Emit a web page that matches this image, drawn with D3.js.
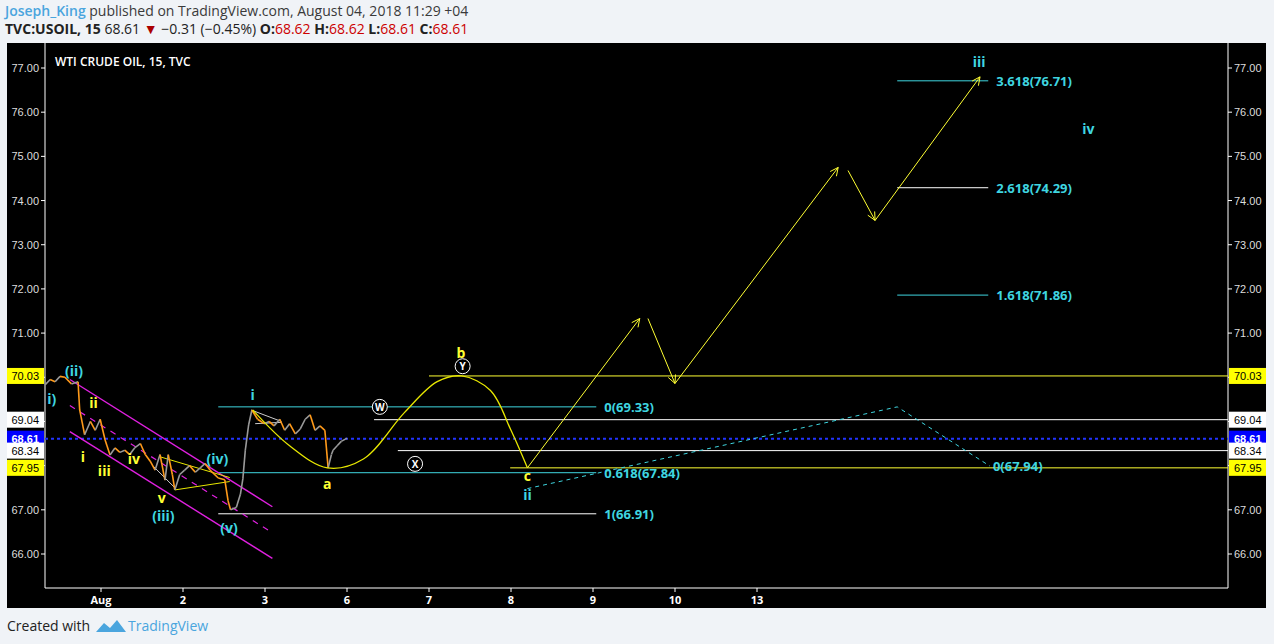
<!DOCTYPE html>
<html><head><meta charset="utf-8">
<script src="https://cdn.jsdelivr.net/npm/d3@7.9.0/dist/d3.min.js"></script>
<style>
body{margin:0;background:#f0f3f7;font-family:"Open Sans",sans-serif;}
svg{display:block}
</style></head><body><svg id="c" width="1274" height="644"></svg>
<script>
// trading-day index: 0 = Aug 1
const dayTicks = [0, 1, 2, 3, 4, 5, 6, 7, 8];
const dayLabels = ['Aug', '2', '3', '6', '7', '8', '9', '10', '13'];
const priceTicks = [66, 67, 68, 69, 70, 71, 72, 73, 74, 75, 76, 77];

// price path (time in days, price)
const pathT = [-0.68,-0.62,-0.56,-0.5,-0.44,-0.36,-0.28,-0.26,-0.2,-0.13,-0.07,-0.01,0.05,0.11,0.17,0.23,0.29,0.35,0.41,0.48,0.54,0.6,0.66,0.72,0.78,0.82,0.87,0.9,0.96,1.02,1.08,1.15,1.21,1.27,1.33,1.43,1.51,1.55,1.58,1.65,1.7,1.73,1.76,1.8,1.84,1.91,1.99,2.05,2.11,2.18,2.24,2.3,2.37,2.43,2.49,2.55,2.61,2.67,2.73,2.77,2.81,2.83,2.88,2.93,2.98,3.0];
const pathP = [69.83,69.95,69.9,70.02,70.0,69.85,69.9,69.26,68.7,69.0,68.8,69.05,68.58,68.24,68.4,68.3,68.35,68.25,68.4,68.5,68.25,68.1,67.9,68.25,67.67,68.25,67.8,67.45,67.8,67.9,68.0,67.85,67.95,68.05,67.9,67.72,67.68,67.2,67.0,67.05,67.35,67.7,68.35,68.92,69.26,69.05,68.95,69.0,68.9,69.05,68.8,68.95,68.72,68.83,69.05,69.15,68.8,68.9,68.8,67.95,68.25,68.35,68.45,68.55,68.6,68.62];

// fib levels: [t0, t1, price, colour, label]
const levels = [
  [1.43, 6.04, 69.33, '#3fd6e0', '0(69.33)'],
  [1.43, 6.04, 67.84, '#3fd6e0', '0.618(67.84)'],
  [1.43, 6.04, 66.91, '#ffffff', '1(66.91)'],
  [9.71, 10.82, 76.71, '#3fd6e0', '3.618(76.71)'],
  [9.71, 10.82, 74.29, '#ffffff', '2.618(74.29)'],
  [9.71, 10.82, 71.86, '#3fd6e0', '1.618(71.86)']
];
// long horizontal rays: [t0, price, colour]
const rays = [[4.0, 70.03, '#ffff33'], [3.33, 69.04, '#ffffff'], [3.62, 68.34, '#ffffff'], [4.99, 67.95, '#ffff33']];
const axisMarks = [[70.03, '#ffff00', '#000'], [69.04, '#fff', '#000'], [68.61, '#0000ff', '#fff'], [68.34, '#fff', '#000'], [67.95, '#ffff00', '#000']];

// projected arrows [t0,p0,t1,p1]
const arrows = [[5.2, 67.95, 6.57, 71.33], [6.67, 71.33, 7.0, 69.86], [7.0, 69.86, 8.99, 74.75], [9.11, 74.68, 9.44, 73.55], [9.44, 73.55, 10.72, 76.8]];
const curveT = [1.85, 2.3, 2.76, 3.2, 3.7, 4.1, 4.4, 4.75, 5.0, 5.2];
const curveP = [69.26, 68.45, 67.95, 68.15, 69.2, 69.9, 70.03, 69.7, 68.8, 67.95];
const dashT = [5.2, 9.71, 10.84], dashP = [67.48, 69.33, 67.99];

const W = 1274, H = 644, L = 45, R = 1228, T = 43, B = 588;
const x = d3.scaleLinear().domain([0, 1]).range([101, 183]);
const y = d3.scaleLinear().domain([66, 77]).range([554, 68]);
const svg = d3.select('#c');

svg.append('text').attr('x', 5).attr('y', 16).attr('font-size', 14).attr('fill', '#3a3a3a')
  .html('<tspan fill="#4aa5de" font-weight="600">Joseph_King</tspan> published on TradingView.com, August 04, 2018 11:29 +04');
svg.append('text').attr('x', 5).attr('y', 34).attr('font-size', 14).attr('fill', '#222')
  .html('<tspan font-weight="700">TVC:USOIL, 15</tspan>  68.61 <tspan fill="#a00">▼</tspan> −0.31 (−0.45%) <tspan font-weight="700">O:</tspan><tspan fill="#c00">68.62</tspan> <tspan font-weight="700">H:</tspan><tspan fill="#c00">68.62</tspan> <tspan font-weight="700">L:</tspan><tspan fill="#c00">68.61</tspan> <tspan font-weight="700">C:</tspan><tspan fill="#c00">68.61</tspan>');

svg.append('rect').attr('x', 7).attr('y', T).attr('width', 1259).attr('height', 565).attr('fill', '#000');
svg.append('defs').append('clipPath').attr('id', 'clip').append('rect').attr('x', L).attr('y', T).attr('width', R - L).attr('height', B - T);
svg.append('path').attr('d', `M${L},${T}V${B}H${R}V${T}`).attr('stroke', '#fff').attr('fill', 'none');
svg.append('text').attr('x', 55).attr('y', 66).attr('fill', '#fff').attr('font-size', 12).attr('font-weight', 600).text('WTI CRUDE OIL, 15, TVC');

// axes
for (const side of [[L, -1, 'end'], [R, 1, 'start']]) {
  const g = svg.append('g').attr('font-family', 'Liberation Sans, Arial').attr('font-size', 11);
  g.selectAll('line').data(priceTicks).join('line').attr('x1', side[0]).attr('x2', side[0] + side[1] * 4)
    .attr('y1', d => y(d)).attr('y2', d => y(d)).attr('stroke', '#fff');
  g.selectAll('text').data(priceTicks).join('text').attr('x', side[0] + side[1] * 6).attr('y', d => y(d) + 4)
    .attr('text-anchor', side[2]).attr('fill', '#ddd').text(d => d.toFixed(2));
  const m = g.selectAll('g').data(axisMarks).join('g');
  m.append('rect').attr('x', side[1] < 0 ? 7 : R + 1).attr('y', d => y(d[0]) - 8).attr('width', side[1] < 0 ? L - 8 : 37).attr('height', 16).attr('fill', d => d[1]);
  m.append('text').attr('x', side[0] + side[1] * 6).attr('y', d => y(d[0]) + 4).attr('text-anchor', side[2])
    .attr('fill', d => d[2]).attr('font-weight', d => d[0] === 68.61 ? 700 : 400).text(d => d[0].toFixed(2));
}
const xg = svg.append('g');
xg.selectAll('line').data(dayTicks).join('line').attr('x1', d => x(d)).attr('x2', d => x(d)).attr('y1', B).attr('y2', B + 4).attr('stroke', '#fff');
xg.selectAll('text').data(dayTicks).join('text').attr('x', d => x(d)).attr('y', B + 16).attr('text-anchor', 'middle')
  .attr('fill', '#fff').attr('font-size', 11).attr('font-weight', 700).text((d, i) => dayLabels[i]);

const plot = svg.append('g').attr('clip-path', 'url(#clip)');
plot.append('line').attr('x1', L).attr('x2', R).attr('y1', y(68.61)).attr('y2', y(68.61)).attr('stroke', '#2233ff').attr('stroke-width', 2).attr('stroke-dasharray', '3,3');

rays.forEach(r => plot.append('line').attr('x1', x(r[0])).attr('x2', R).attr('y1', y(r[1])).attr('y2', y(r[1])).attr('stroke', r[2]));
levels.forEach(l => {
  plot.append('line').attr('x1', x(l[0])).attr('x2', x(l[1])).attr('y1', y(l[2])).attr('y2', y(l[2])).attr('stroke', l[3]);
  plot.append('text').attr('x', x(l[1]) + 8).attr('y', y(l[2]) + 5).attr('fill', '#3fd6e0').attr('font-size', 13).attr('font-weight', 700).text(l[4]);
});
plot.append('text').attr('x', x(10.84) + 3).attr('y', y(67.99) + 5).attr('fill', '#3fd6e0').attr('font-size', 13).attr('font-weight', 700).text('0(67.94)');
plot.append('path').attr('d', d3.line().x(d => x(d[0])).y(d => y(d[1]))(dashT.map((t, i) => [t, dashP[i]])))
  .attr('fill', 'none').attr('stroke', '#3fd6e0').attr('stroke-dasharray', '4,4');

// channel
const ch = [[-0.38, 69.95, 2.09, 67.07, '', 1.4], [-0.38, 68.77, 2.09, 65.9, '', 1.4], [-0.38, 69.36, 2.09, 66.48, '6,6', 1.2]];
ch.forEach(c => plot.append('line').attr('x1', x(c[0])).attr('y1', y(c[1])).attr('x2', x(c[2])).attr('y2', y(c[3]))
  .attr('stroke', '#e020e0').attr('stroke-width', c[5]).attr('stroke-dasharray', c[4]));
[[0.72, 68.2, 1.57, 67.73], [0.9, 67.45, 1.57, 67.64]].forEach(c => plot.append('line').attr('x1', x(c[0])).attr('y1', y(c[1])).attr('x2', x(c[2])).attr('y2', y(c[3])).attr('stroke', '#e8e800'));
[[1.83, 69.26, 2.2, 69.0], [1.88, 68.95, 2.2, 68.98], [0.63, 68.0, 0.9, 67.5]].forEach(c => plot.append('line').attr('x1', x(c[0])).attr('y1', y(c[1])).attr('x2', x(c[2])).attr('y2', y(c[3])).attr('stroke', '#ccc'));

// price bars
const pts = pathT.map((t, i) => [t, pathP[i]]);
for (let i = 1; i < pts.length; i++) {
  const a = pts[i - 1], b = pts[i];
  plot.append('line').attr('x1', x(a[0])).attr('x2', x(b[0])).attr('y1', y(a[1])).attr('y2', y(b[1]))
    .attr('stroke', b[1] < a[1] ? '#ff9a1a' : '#9a9a9a').attr('stroke-width', 1.6);
}

// yellow curve and arrows
plot.append('path').attr('d', d3.line().curve(d3.curveCatmullRom).x(d => x(d[0])).y(d => y(d[1]))(curveT.map((t, i) => [t, curveP[i]])))
  .attr('fill', 'none').attr('stroke', '#e8e800').attr('stroke-width', 1.3);
arrows.forEach(a => {
  const x0 = x(a[0]), y0 = y(a[1]), x1 = x(a[2]), y1 = y(a[3]);
  const ang = Math.atan2(y1 - y0, x1 - x0);
  plot.append('line').attr('x1', x0).attr('y1', y0).attr('x2', x1).attr('y2', y1).attr('stroke', '#ffff33');
  const h = 9;
  plot.append('path').attr('d', `M${x1 - h * Math.cos(ang - 0.45)},${y1 - h * Math.sin(ang - 0.45)}L${x1},${y1}L${x1 - h * Math.cos(ang + 0.45)},${y1 - h * Math.sin(ang + 0.45)}`)
    .attr('fill', 'none').attr('stroke', '#ffff33');
});

// wave labels [t, price, text, colour]
const waves = [[-0.6, 69.52, 'i)', '#3fd6e0'], [-0.33, 70.17, '(ii)', '#3fd6e0'], [-0.09, 69.43, 'ii', '#ffff33'], [-0.22, 68.22, 'i', '#ffff33'],
  [0.04, 67.9, 'iii', '#ffff33'], [0.4, 68.17, 'iv', '#ffff33'], [0.74, 67.3, 'v', '#ffff33'], [0.76, 66.88, '(iii)', '#3fd6e0'],
  [1.42, 68.17, '(iv)', '#3fd6e0'], [1.56, 66.62, '(v)', '#3fd6e0'], [1.85, 69.62, 'i', '#3fd6e0'], [2.76, 67.6, 'a', '#ffff33'],
  [4.39, 70.58, 'b', '#ffff33'], [5.2, 67.78, 'c', '#ffff33'], [5.2, 67.36, 'ii', '#3fd6e0'], [10.71, 77.15, 'iii', '#3fd6e0'], [12.04, 75.65, 'iv', '#3fd6e0']];
plot.selectAll('text.w').data(waves).join('text').attr('class', 'w').attr('x', d => x(d[0])).attr('y', d => y(d[1]) + 6)
  .attr('text-anchor', 'middle').attr('fill', d => d[3]).attr('font-size', 14).attr('font-weight', 700).text(d => d[2]);
const circ = [[3.4, 69.33, 'W'], [3.83, 68.04, 'X'], [4.41, 70.25, 'Y']];
const cg = plot.selectAll('g.c').data(circ).join('g').attr('class', 'c').attr('transform', d => `translate(${x(d[0])},${y(d[1])})`);
cg.append('circle').attr('r', 7.5).attr('fill', '#000').attr('stroke', '#fff');
cg.append('text').attr('y', 4).attr('text-anchor', 'middle').attr('fill', '#fff').attr('font-size', 10).attr('font-weight', 700).text(d => d[2]);

// footer
svg.append('text').attr('x', 7).attr('y', 631).attr('font-size', 14).attr('fill', '#222').text('Created with');
svg.append('path').attr('d', 'M96,632 l8,-9 l6,5 l7,-8 l9,12 z').attr('fill', '#4aa5de');
svg.append('text').attr('x', 128).attr('y', 631).attr('font-size', 14).attr('fill', '#4aa5de').text('TradingView');
</script></body></html>
